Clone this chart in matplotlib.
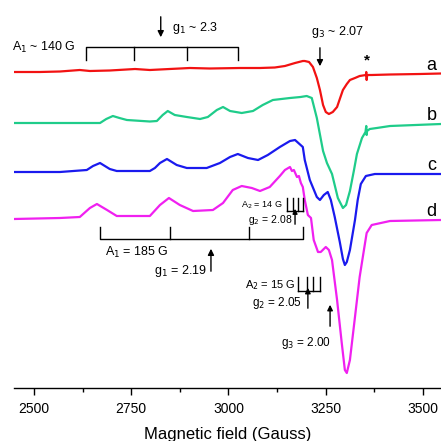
import matplotlib
matplotlib.use("Agg")
import matplotlib.pyplot as plt
import numpy as np

plt.rcParams['font.family'] = ['Liberation Sans', 'DejaVu Sans']

# ---- data (field in Gauss, intensity in arbitrary units relative to each baseline) ----
field_a = [2449, 2515, 2567, 2618, 2644, 2695, 2760, 2798, 2849, 2901, 2952, 3029, 3081,
           3119, 3145, 3171, 3191, 3196, 3207, 3217, 3227, 3235, 3243, 3250, 3258, 3268,
           3279, 3286, 3294, 3304, 3312, 3325, 3337, 3353, 3354, 3355, 3356, 3358, 3368,
           3415, 3492, 3546]
int_a = [0, 0, 0.5, 2, 1, 1.5, 3, 2, 3, 4, 3.5, 4, 4,
         4.5, 6, 9, 11, 11, 10, 5, -6, -18, -33, -40, -42, -40,
         -35, -27, -18, -12, -8, -6, -4, -3, 0, -8, -4, -3, -3,
         -2.5, -2, -1.5]

field_b = [2449, 2567, 2670, 2686, 2703, 2720, 2739, 2798, 2816, 2831, 2844, 2862, 2893,
           2927, 2947, 2970, 2986, 3004, 3034, 3063, 3088, 3114, 3158, 3185,
           3201, 3214, 3227, 3243, 3253, 3266, 3281, 3294, 3302, 3312, 3322, 3330, 3343,
           3352, 3354, 3355, 3356, 3363, 3381, 3415, 3546]
int_b = [0, 0, 0, 4, 7, 5, 3, 1.5, 2, 8, 12, 8, 6,
         4, 6, 13, 16, 12, 10, 12, 18, 23, 25, 26,
         27, 25, 5, -28, -40, -51, -75, -85, -82, -68, -48, -31, -15,
         -9, -3, -12, -8, -6, -5, -3, -1]

field_c = [2449, 2567, 2636, 2652, 2670, 2695, 2713, 2798, 2811, 2824, 2842, 2867, 2893,
           2944, 2978, 3004, 3024, 3050, 3076, 3101, 3132, 3158, 3171,
           3191, 3196, 3209, 3227, 3235, 3245, 3255, 3263, 3273, 3286, 3294, 3299, 3304,
           3312, 3325, 3332, 3340, 3353, 3376, 3546]
int_c = [0, 0, 2, 6, 9, 3, 1, 1, 4, 9, 13, 7, 4,
         4, 9, 15, 18, 14, 12, 17, 25, 31, 32,
         25, 12, -8, -25, -28, -23, -20, -28, -45, -70, -87, -93, -90,
         -78, -48, -28, -12, -4, -2, -2]

field_d = [2449, 2567, 2618, 2644, 2662, 2688, 2713, 2798, 2824, 2847, 2875, 2909, 2960,
           2986, 3011, 3034, 3060, 3081, 3106, 3132, 3145, 3158, 3163,
           3168, 3176, 3181, 3186, 3191, 3196, 3204, 3212, 3219, 3230, 3237, 3250, 3258,
           3266, 3279, 3291, 3299, 3304, 3312, 3325, 3337, 3348, 3355, 3368, 3415, 3546]
int_d = [0, 1, 2, 11, 15, 9, 3, 3, 14, 21, 14, 8, 9,
         16, 29, 33, 31, 28, 32, 43, 49, 52, 48,
         49, 42, 43, 36, 32, 19, 4, 1, -21, -33, -33, -28, -31,
         -41, -81, -124, -151, -154, -141, -98, -58, -31, -14, -6, -2, -1]

trace_labels = ['a', 'b', 'c', 'd']
colors = ['#f21212', '#1fcc8a', '#1a1aee', '#f020f0']
offsets = [72, 123, 172, 219]

x_ticks = [2500, 2750, 3000, 3250, 3500]
x_label = 'Magnetic field (Gauss)'

# ---- figure ----
fig = plt.figure(figsize=(4.41, 4.41), dpi=100)
ax = fig.add_axes([14/441, 53/441, 427/441, 388/441])
ax.set_xlim(2449, 3546)
ax.set_ylim(-388, 0)

fields = [field_a, field_b, field_c, field_d]
ints = [int_a, int_b, int_c, int_d]
for f, v, c, off, lab in zip(fields, ints, colors, offsets, trace_labels):
    ax.plot(f, -off + np.array(v), color=c, lw=1.6, solid_joinstyle='round')
    ax.text(3522, -off + 7, lab, fontsize=13, ha='center', va='center', clip_on=False)

for s in ['left', 'right', 'top']:
    ax.spines[s].set_visible(False)
ax.spines['bottom'].set_linewidth(1.0)
ax.set_yticks([])
ax.set_xticks(x_ticks)
ax.set_xticks([2625, 2875, 3125, 3375], minor=True)
ax.tick_params(axis='x', which='major', direction='out', length=5, width=1, labelsize=10, pad=5)
ax.tick_params(axis='x', which='minor', direction='out', length=3, width=1)
ax.set_xlabel(x_label, fontsize=12, labelpad=8)

k = 'black'
# top annotations (trace a)
ax.text(2443, -47, r'A$_1$ ~ 140 G', fontsize=9, ha='left', va='center')
ax.plot([2634, 2634, 3024, 3024], [-60, -47, -47, -60], color=k, lw=1)
for xx in [2757, 2893]:
    ax.plot([xx, xx], [-47, -60], color=k, lw=1)
ax.annotate('', xy=(2826, -40), xytext=(2826, -14),
            arrowprops=dict(arrowstyle='-|>', color=k, lw=1, mutation_scale=9))
ax.text(2855, -28, r'g$_1$ ~ 2.3', fontsize=9, ha='left', va='center')
ax.text(3212, -32, r'g$_3$ ~ 2.07', fontsize=9, ha='left', va='center')
ax.annotate('', xy=(3235, -69), xytext=(3235, -45),
            arrowprops=dict(arrowstyle='-|>', color=k, lw=1, mutation_scale=9))
ax.text(3355, -60, '*', fontsize=11, ha='center', va='center', fontweight='bold')

# lower annotations (trace d)
ax.plot([2670, 2670, 3191, 3191], [-227, -239, -239, -227], color=k, lw=1)
for xx in [2849, 3052]:
    ax.plot([xx, xx], [-239, -227], color=k, lw=1)
ax.text(2683, -252, r'A$_1$ = 185 G', fontsize=9, ha='left', va='center')
ax.annotate('', xy=(2955, -246), xytext=(2955, -274),
            arrowprops=dict(arrowstyle='-|>', color=k, lw=1, mutation_scale=9))
ax.text(2945, -271, r'g$_1$ = 2.19', fontsize=9, ha='right', va='center')

ax.text(3032, -205, r'A$_2$ = 14 G', fontsize=6.5, ha='left', va='center')
comb1 = [3150, 3165, 3178, 3191]
for xx in comb1:
    ax.plot([xx, xx], [-198, -211], color=k, lw=1)
ax.plot([comb1[0], comb1[-1]], [-211, -211], color=k, lw=1)
ax.annotate('', xy=(3171, -206), xytext=(3171, -227),
            arrowprops=dict(arrowstyle='-|>', color=k, lw=1, mutation_scale=7))
ax.text(3165, -220, r'g$_2$ = 2.08', fontsize=7.5, ha='right', va='center')

ax.text(3042, -285, r'A$_2$ = 15 G', fontsize=8, ha='left', va='center')
comb2 = [3178, 3201, 3217, 3235]
for xx in comb2:
    ax.plot([xx, xx], [-277, -291], color=k, lw=1)
ax.plot([comb2[0], comb2[-1]], [-291, -291], color=k, lw=1)
ax.annotate('', xy=(3204, -285), xytext=(3204, -311),
            arrowprops=dict(arrowstyle='-|>', color=k, lw=1, mutation_scale=8))
ax.text(3188, -303, r'g$_2$ = 2.05', fontsize=8.5, ha='right', va='center')
ax.annotate('', xy=(3261, -302), xytext=(3261, -329),
            arrowprops=dict(arrowstyle='-|>', color=k, lw=1, mutation_scale=8))
ax.text(3264, -343, r'g$_3$ = 2.00', fontsize=8.5, ha='right', va='center')

fig.savefig('out.png', dpi=100)
